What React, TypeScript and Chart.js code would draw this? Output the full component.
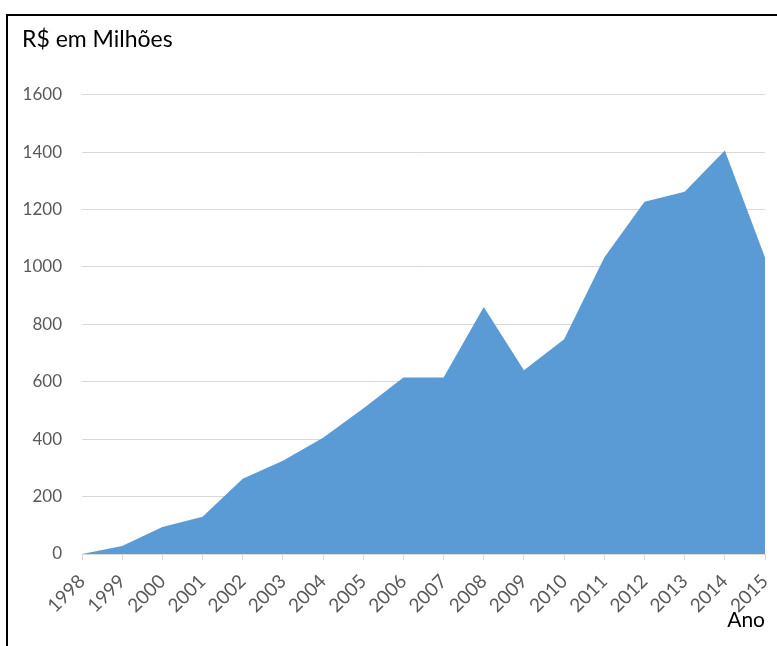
import React, { useEffect, useRef } from "react";
import { Chart, registerables } from "chart.js";

Chart.register(...registerables);

const years = ["1998","1999","2000","2001","2002","2003","2004","2005","2006","2007","2008","2009","2010","2011","2012","2013","2014","2015"];
const values = [0, 28, 94, 130, 262, 325, 405, 507, 615, 615, 860, 640, 748, 1033, 1227, 1262, 1405, 1033];
const yTitle = "R$ em Milhões";
const xTitle = "Ano";

const FONT = "Lato, 'Open Sans', sans-serif";

export default function App() {
  const ref = useRef<HTMLCanvasElement>(null);
  useEffect(() => {
    if (!ref.current) return;
    const chart = new Chart(ref.current, {
      type: "line",
      data: {
        labels: years,
        datasets: [
          {
            data: values,
            fill: "origin",
            backgroundColor: "#5B9BD5",
            borderColor: "#5B9BD5",
            borderWidth: 0,
            pointRadius: 0,
            tension: 0,
          },
        ],
      },
      options: {
        animation: false,
        responsive: false,
        devicePixelRatio: 1,
        layout: { padding: { left: 22, top: 26, right: 12, bottom: 7 } },
        plugins: {
          legend: { display: false },
          tooltip: { enabled: false },
          title: {
            display: true,
            text: yTitle,
            align: "start",
            color: "#000000",
            font: { family: FONT, size: 23, weight: "normal" },
            padding: { top: 0, bottom: 41 },
          },
        },
        scales: {
          x: {
            offset: false,
            afterFit: (scale: any) => {
              scale.height = 85;
              scale.paddingRight = 0;
              scale.paddingLeft = 0;
            },
            grid: {
              drawOnChartArea: false,
              drawTicks: true,
              tickLength: 6,
              color: "#d9d9d9",
            },
            border: { display: true, color: "#d9d9d9", width: 1 },
            ticks: {
              autoSkip: false,
              maxRotation: 45,
              minRotation: 45,
              padding: 10,
              color: "#595959",
              font: { family: FONT, size: 19 },
            },
            title: {
              display: true,
              text: xTitle,
              align: "end",
              color: "#000000",
              font: { family: FONT, size: 21 },
              padding: { top: 0, bottom: 6 },
            },
          },
          y: {
            min: 0,
            max: 1600,
            afterFit: (scale: any) => {
              scale.width = 60;
            },
            grid: { drawTicks: false, color: "#d9d9d9", lineWidth: 1 },
            border: { display: false },
            ticks: {
              stepSize: 200,
              padding: 20,
              color: "#595959",
              font: { family: FONT, size: 17 },
              callback: (v: any) => String(v),
            },
          },
        },
      },
    });
    return () => chart.destroy();
  }, []);

  return (
    <div style={{ position: "absolute", left: 0, top: 0, width: 777, height: 646, background: "#fff", overflow: "hidden" }}>
      <div
        style={{
          position: "absolute",
          left: 6,
          top: 14,
          width: 777,
          height: 700,
          borderLeft: "2px solid #000",
          borderTop: "2px solid #000",
        }}
      />
      <canvas ref={ref} width={777} height={646} style={{ position: "absolute", left: 0, top: 0 }} />
    </div>
  );
}
